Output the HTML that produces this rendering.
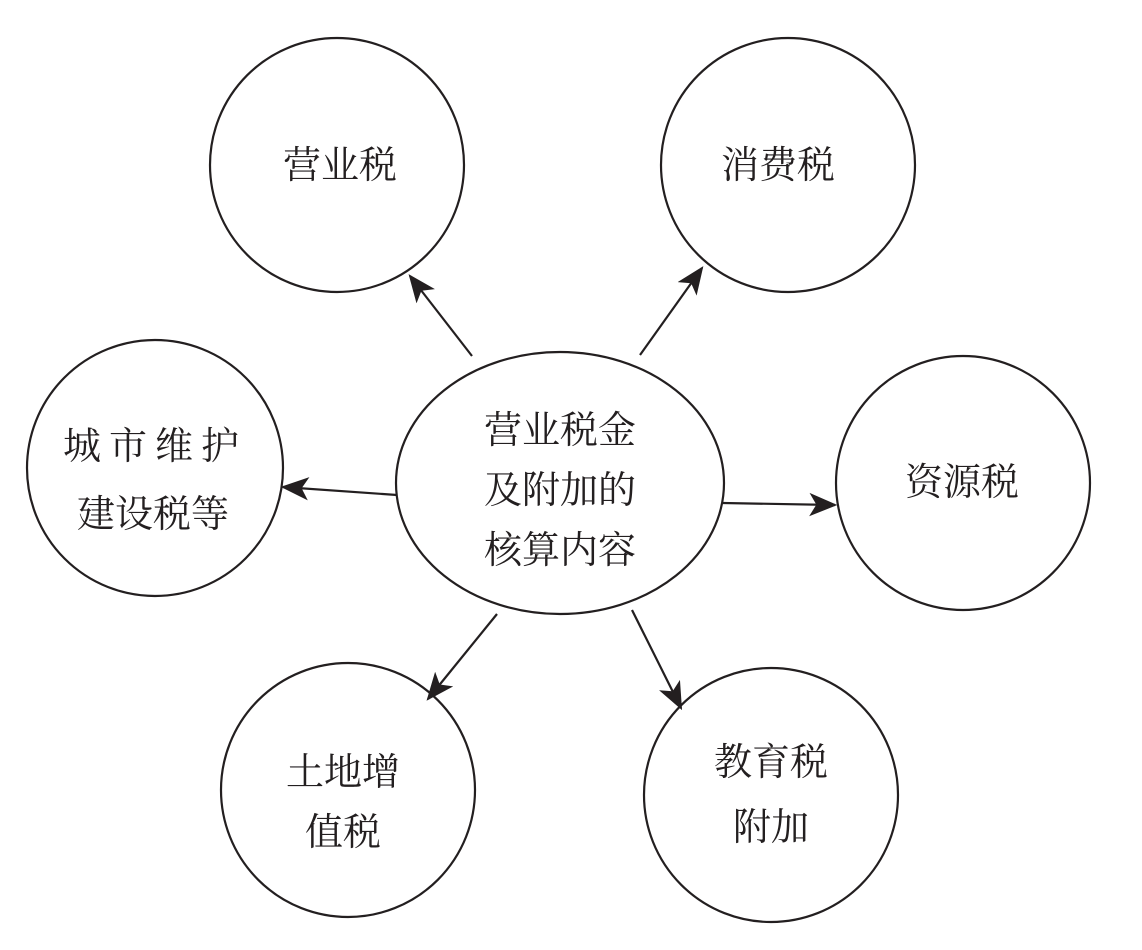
<!DOCTYPE html>
<html><head><meta charset="utf-8"><style>
html,body{margin:0;padding:0;background:#fff;}
svg{display:block;}
text{font-family:"Liberation Serif","Noto Serif CJK SC",serif;font-size:38px;fill:#231f20;}
</style></head><body>
<svg width="1142" height="950" viewBox="0 0 1142 950" xmlns="http://www.w3.org/2000/svg">
<defs>
<marker id="a" viewBox="0 0 10 10" refX="9" refY="5" markerWidth="10" markerHeight="10" markerUnits="userSpaceOnUse" orient="auto">
<path d="M0,0 L10,5 L0,10 L3,5 z" fill="#231f20"/>
</marker>
<marker id="b" viewBox="0 0 12 12" refX="11" refY="6" markerWidth="28" markerHeight="28" markerUnits="userSpaceOnUse" orient="auto">
<path d="M0,1 L12,6 L0,11 L3,6 z" fill="#231f20"/>
</marker>
</defs>
<g fill="none" stroke="#231f20" stroke-width="2.2">
<circle cx="337" cy="165" r="127"/>
<circle cx="788" cy="165" r="127"/>
<circle cx="155" cy="468" r="128"/>
<ellipse cx="560" cy="483" rx="164" ry="131"/>
<circle cx="963" cy="483" r="127"/>
<circle cx="348" cy="790" r="127"/>
<circle cx="771" cy="795" r="127"/>
</g>
<g stroke="#231f20" stroke-width="2.2" marker-end="url(#b)">
<line x1="472" y1="356" x2="410" y2="276"/>
<line x1="640" y1="355" x2="702" y2="268"/>
<line x1="397" y1="495" x2="283" y2="487"/>
<line x1="723" y1="503" x2="835" y2="505"/>
<line x1="497" y1="614" x2="428" y2="699"/>
<line x1="632" y1="610" x2="681" y2="708"/>
</g>
<text x="340" y="178" text-anchor="middle">营业税</text>
<text x="778" y="178" text-anchor="middle">消费税</text>
<text x="155" y="459" text-anchor="middle" letter-spacing="8">城市维护</text>
<text x="153" y="527" text-anchor="middle">建设税等</text>
<text x="560" y="443" text-anchor="middle">营业税金</text>
<text x="560" y="503" text-anchor="middle">及附加的</text>
<text x="560" y="563" text-anchor="middle">核算内容</text>
<text x="962" y="495" text-anchor="middle">资源税</text>
<text x="343" y="785" text-anchor="middle">土地增</text>
<text x="343" y="845" text-anchor="middle">值税</text>
<text x="771" y="775" text-anchor="middle">教育税</text>
<text x="771" y="840" text-anchor="middle">附加</text>
</svg>
</body></html>
